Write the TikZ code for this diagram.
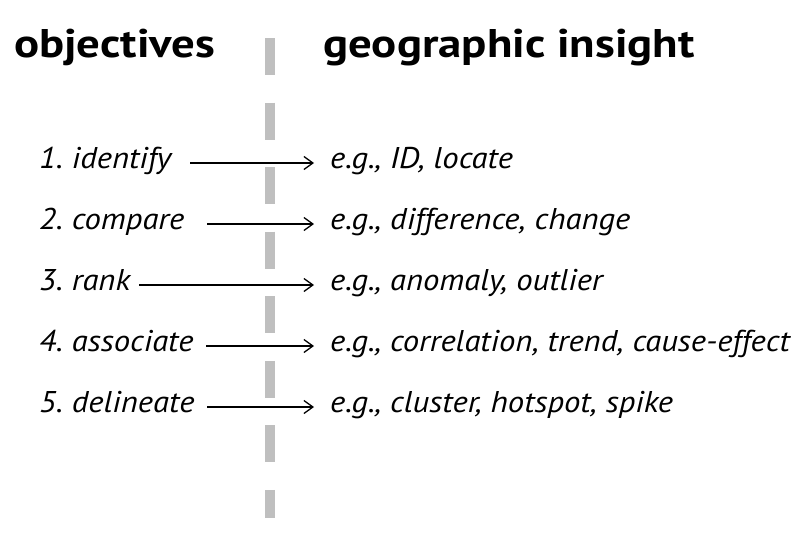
\documentclass[tikz,border=0pt]{standalone}
\usepackage{fontspec}
\setmainfont{PT Sans}
\newfontfamily\headfont{PT Sans}[FakeStretch=1.17]
\newfontfamily\bodyfont{PT Sans}[FakeStretch=1.09]
\frenchspacing
\usetikzlibrary{arrows.meta}
\begin{document}
\begin{tikzpicture}[x=1pt,y=1pt,
  head/.style={anchor=base west,inner sep=0pt,font=\headfont\fontsize{40}{44}\selectfont\bfseries},
  obj/.style={anchor=base west,inner sep=0pt,font=\bodyfont\fontsize{30}{34}\selectfont\itshape},
  arr/.style={-{Straight Barb[length=9pt,width=13pt]},line width=1.3pt,shorten >=16pt},
  divider/.style={draw=black!25,line width=10pt,dash pattern=on 37pt off 27.57pt}]
\useasboundingbox (0,0) rectangle (802,-533);
\draw[divider] (270,-38) -- (270,-518);
\node[head] (h1) at (14,-57) {objectives};
\node[head] (h2) at (323,-57) {geographic insight};
\foreach \i/\a/\b/\s in {1/1. identify/{e.g., ID, locate}/190,
  2/2. compare/{e.g., difference, change}/207,
  3/3. rank/{e.g., anomaly, outlier}/139,
  4/4. associate/{e.g., correlation, trend, cause-effect}/206,
  5/5. delineate/{e.g., cluster, hotspot, spike}/207}{
  \pgfmathsetmacro{\yb}{-168-61*(\i-1)}
  \node[obj] (l\i) at (39,\yb) {\a};
  \node[obj] (r\i) at (330,\yb) {\b};
  \coordinate (s\i) at (\s,\yb+5);
  \draw[arr] (s\i) -- (s\i -| r\i.west);
}
\end{tikzpicture}
\end{document}
